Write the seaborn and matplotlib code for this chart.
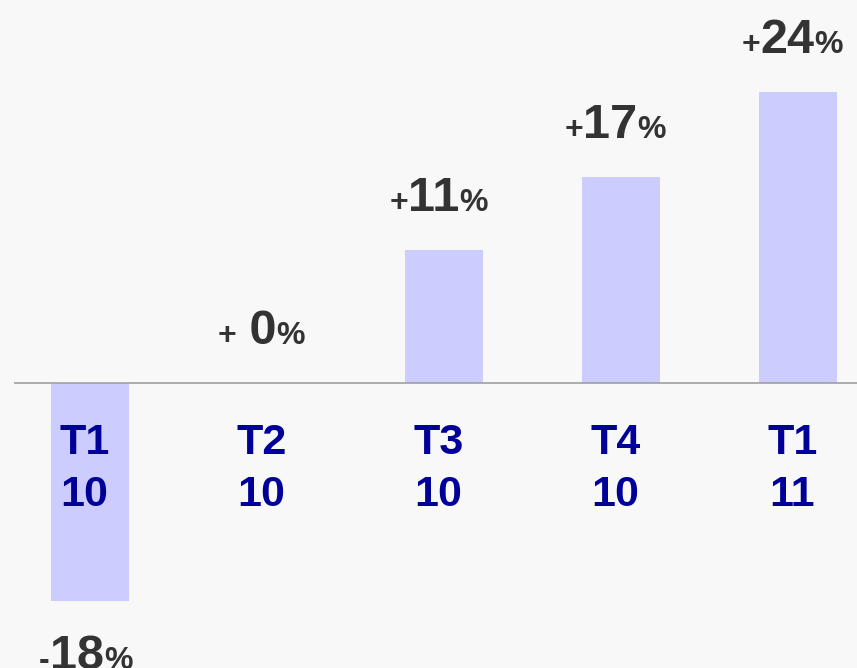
import matplotlib
matplotlib.use("Agg")
import matplotlib.pyplot as plt
import seaborn as sns
import pandas as pd
from matplotlib.offsetbox import TextArea, HPacker, AnnotationBbox

# ---- data ----
quarters = ["T1", "T2", "T3", "T4", "T1"]
years = ["10", "10", "10", "10", "11"]
growth = [-18, 0, 11, 17, 24]

sns.set_theme(style="white")
plt.rcParams['font.family'] = ['Liberation Sans', 'DejaVu Sans']

BG = "#f8f8f8"
BAR = "#ccccff"
NUM = "#333333"
CAT = "#000099"

fig = plt.figure(figsize=(8.57, 6.68), dpi=100, facecolor=BG)
ax = fig.add_axes([14 / 857, 0, 843 / 857, 1])
ax.set_facecolor(BG)

labels = [f"{q}\n{y}" for q, y in zip(quarters, years)]
df = pd.DataFrame({"period": labels, "growth": growth})
sns.barplot(data=df, x="period", y="growth", color=BAR, saturation=1,
            width=0.44, ax=ax, zorder=2, linewidth=0, edgecolor="none")
ax.set_xlim(-0.429, 4.333)
ax.set_ylim(-23.5, 31.6)
ax.axhline(0, color="#a0a0a0", lw=1.2, zorder=3)
ax.set_axis_off()

# category labels under the zero line
for i, lab in enumerate(labels):
    ax.annotate(lab, xy=(i, 0), xytext=(-4, -29), textcoords="offset points",
                ha="center", va="top", fontsize=31, fontweight="bold",
                color=CAT, linespacing=1.38, annotation_clip=False, zorder=4)

# value labels: small sign, large number, small percent sign
for i, v in enumerate(growth):
    if v > 0:
        sign, num = "+", str(v)
    elif v == 0:
        sign, num = "+", " " + str(v)
    else:
        sign, num = "-", str(abs(v))
    small = dict(fontsize=23, fontweight="bold", color=NUM)
    big = dict(fontsize=35, fontweight="bold", color=NUM)
    pack = HPacker(children=[TextArea(sign, textprops=small),
                             TextArea(num, textprops=big),
                             TextArea("%", textprops=small)],
                   align="baseline", pad=0, sep=0)
    if v >= 0:
        ab = AnnotationBbox(pack, (i, v), xybox=(-4, 21), xycoords="data",
                            boxcoords="offset points", box_alignment=(0.5, 0),
                            frameon=False, annotation_clip=False, zorder=5)
    else:
        ab = AnnotationBbox(pack, (i, v), xybox=(-3, -23.5), xycoords="data",
                            boxcoords="offset points", box_alignment=(0.5, 1),
                            frameon=False, annotation_clip=False, zorder=5)
    ax.add_artist(ab)

fig.savefig("out.png", dpi=100, facecolor=BG)
